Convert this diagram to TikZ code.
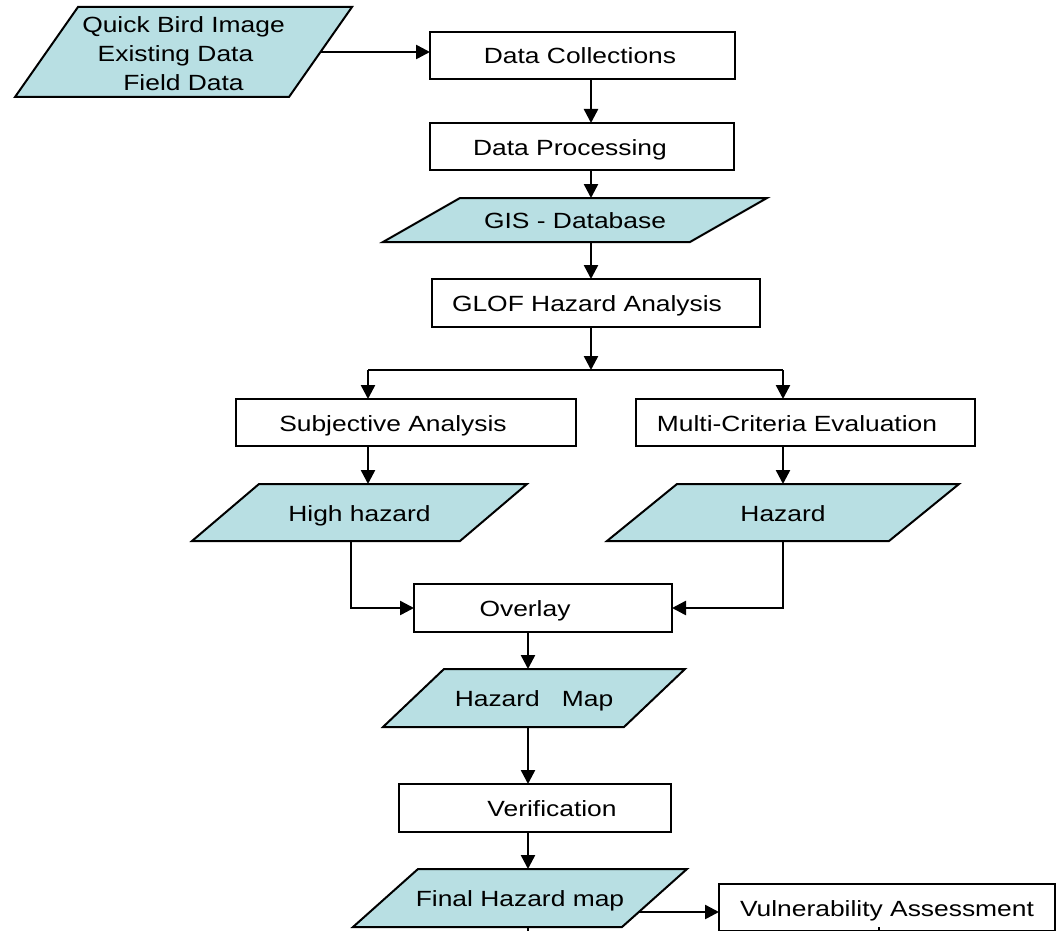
\documentclass[tikz,border=0pt]{standalone}
\usepackage{fontspec}
\setmainfont{Liberation Sans}[FakeStretch=1.2]
\usetikzlibrary{arrows.meta,calc,backgrounds}
\definecolor{paraFill}{RGB}{184,223,227}
\begin{document}
\begin{tikzpicture}[x=1pt,y=-1pt,
  font=\fontsize{22}{29}\selectfont,
  box/.style={draw=black,line width=2pt,inner sep=0pt,outer sep=0pt,align=center,rectangle,text height=17pt,text depth=0pt},
  iodata/.style={inner sep=0pt,outer sep=0pt,align=center,rectangle,text height=17pt,text depth=0pt},
  para/.style={fill=paraFill,draw=black,line width=2pt,line join=miter},
  conn/.style={line width=2.5pt},
  arr/.style={conn,-{Triangle[length=14pt,width=14pt]}}]
\useasboundingbox (0,0) rectangle (1057,931);
\clip (0,0) rectangle (1057,931);

% nodes
\node[inner sep=0pt,outer sep=0pt,align=center,rectangle,minimum width=337pt,minimum height=90pt] (inp) at (183.5,52) {\rule{0pt}{20pt}Quick Bird Image\\\hspace*{-16pt}Existing Data\\Field Data};
\node[box,minimum width=305pt,minimum height=47pt] (dc) at (582.5,55.5) {\hspace*{-5pt}Data Collections};
\node[box,minimum width=304pt,minimum height=47pt] (dp) at (582,146.5) {\hspace*{-24pt}Data Processing};
\node[iodata,minimum width=384pt,minimum height=44pt] (gis) at (575,220) {GIS - Database};
\node[box,minimum width=328pt,minimum height=48pt] (glof) at (596,303) {\hspace*{-18pt}GLOF Hazard Analysis};
\node[box,minimum width=340pt,minimum height=47pt] (subj) at (406,422.5) {\hspace*{-26pt}Subjective Analysis};
\node[box,minimum width=339pt,minimum height=47pt] (multi) at (805.5,422.5) {\hspace*{-17pt}Multi-Criteria Evaluation};
\node[iodata,minimum width=335pt,minimum height=57pt] (hh) at (359.5,512.5) {High hazard};
\node[iodata,minimum width=352pt,minimum height=57pt] (hz) at (783,512.5) {Hazard};
\node[box,minimum width=258pt,minimum height=48pt] (ov) at (543,608) {\hspace*{-36pt}Overlay};
\node[iodata,minimum width=302pt,minimum height=58pt] (hm) at (534,698) {Hazard~~~Map};
\node[box,minimum width=272pt,minimum height=48pt] (ver) at (535,808) {\hspace*{34pt}Verification};
\node[iodata,minimum width=334pt,minimum height=58pt] (fh) at (520,898) {Final Hazard map};
\node[box,minimum width=336pt,minimum height=47pt] (vuln) at (887,907.5) {Vulnerability Assessment};

% parallelogram outlines behind the texts
\begin{scope}[on background layer]
\foreach \n/\off in {inp/63,gis/77,hh/67,hz/70,hm/61,fh/65}
  \draw[para] ([xshift=\off pt]\n.north west) -- (\n.north east) -- ([xshift=-\off pt]\n.south east) -- (\n.south west) -- cycle;
\end{scope}

% helper coordinates
\coordinate (sp) at (591,370);
\coordinate (bl) at (368,370);
\coordinate (br) at (783,370);
\coordinate (hx) at (351,0);
\coordinate (cx) at (528,0);
\coordinate (fa) at (639,912);
\coordinate (vx) at (879,0);

% connectors
\draw[arr] ([xshift=-31.5pt]inp.east) -- (inp.east -| dc.west);
\draw[arr] (dc.south -| sp) -- (dp.north -| sp);
\draw[arr] (dp.south -| sp) -- (gis.north -| sp);
\draw[arr] (gis.south -| sp) -- (glof.north -| sp);
\draw[arr] (glof.south -| sp) -- (sp);
\draw[conn] (bl) -- (br);
\draw[arr] (bl) -- (subj.north -| bl);
\draw[arr] (br) -- (multi.north -| br);
\draw[arr] (subj.south -| bl) -- (hh.north -| bl);
\draw[arr] (multi.south -| br) -- (hz.north -| br);
\draw[arr] (hh.south -| hx) |- (ov.west);
\draw[arr] (hz.south -| br) |- (ov.east);
\draw[arr] (ov.south -| cx) -- (hm.north -| cx);
\draw[arr] (hm.south -| cx) -- (ver.north -| cx);
\draw[arr] (ver.south -| cx) -- (fh.north -| cx);
\draw[arr] (fa) -- (fa -| vuln.west);
\draw[conn] (fh.south -| cx) -- ++(0,10);
\draw[conn] ($(vuln.south -| vx)+(0,-4)$) -- ++(0,14);
\end{tikzpicture}
\end{document}
